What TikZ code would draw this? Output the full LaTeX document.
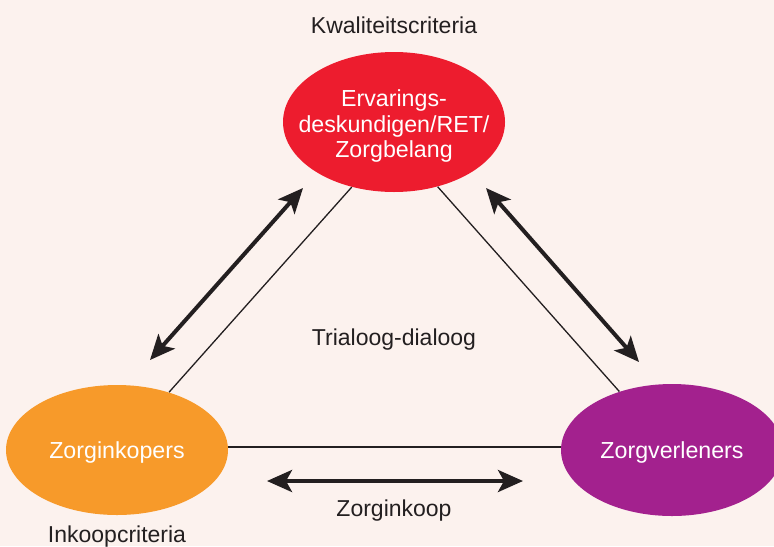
\documentclass[tikz,border=0pt]{standalone}
\usepackage{fontspec}
\setmainfont{Liberation Sans}
\usetikzlibrary{shapes.geometric,arrows.meta}

\definecolor{bgpink}{HTML}{FCF2EE}
\definecolor{retred}{HTML}{ED1C2E}
\definecolor{inkoop}{HTML}{F79A2A}
\definecolor{verlener}{HTML}{A3218E}
\definecolor{ink}{HTML}{231F20}

\tikzset{
  bubble/.style={ellipse,draw=none,inner sep=0pt,minimum width=111pt,minimum height=#1},
  bubble/.default=67pt,
  bubbletext/.style={text=white,align=center,font=\fontsize{11.6}{12.7}\selectfont},
  plain/.style={text=ink,font=\fontsize{11.5}{13}\selectfont},
  thin line/.style={draw=ink,line width=0.65pt},
  dialog/.style={draw=ink,line width=2pt,
    {Stealth[length=12.5pt,width=11pt,inset=3pt]}-{Stealth[length=12.5pt,width=11pt,inset=3pt]}}
}

\begin{document}
\begin{tikzpicture}[x=0.5pt,y=-0.5pt]
\fill[bgpink] (0,0) rectangle (774,546);
\useasboundingbox (0,0) rectangle (774,546);

% de drie partijen
\node[bubble=70pt,fill=retred] (ret) at (394,122) {};
\node[bubbletext] (rettext) at (394,126) {Ervarings-\\deskundigen/RET/\\Zorgbelang};
\node[bubble=65pt,fill=inkoop] (inkopers) at (117,450) {};
\node[bubbletext] (inkopertext) at (117,452) {Zorginkopers};
\node[bubble=66pt,fill=verlener] (verleners) at (672,450) {};
\node[bubbletext] (verlenertext) at (672,452) {Zorgverleners};

% verbindingen
\draw[thin line] (ret.237) -- (inkopers.48);
\draw[thin line] (ret.304) -- (verleners.132);
\draw[thin line] ([yshift=1.5pt]inkopers.east) -- ([yshift=1.5pt]verleners.west);

% dialoogpijlen
\coordinate (la) at (303,188);
\coordinate (lb) at (150,360);
\coordinate (ra) at (486,188);
\coordinate (rb) at (639,362);
\coordinate (ba) at (267,481);
\coordinate (bb) at (523,481);
\draw[dialog] (la) -- (lb);
\draw[dialog] (ra) -- (rb);
\draw[dialog] (ba) -- (bb);

% teksten
\node[plain] (kwal) at (394,25) {Kwaliteitscriteria};
\node[plain] (trialoog) at (394,340) {Trialoog-dialoog};
\node[plain] (koop) at (394,511) {Zorginkoop};
\node[plain] (inkoopcrit) at (117,537) {Inkoopcriteria};
\end{tikzpicture}
\end{document}
